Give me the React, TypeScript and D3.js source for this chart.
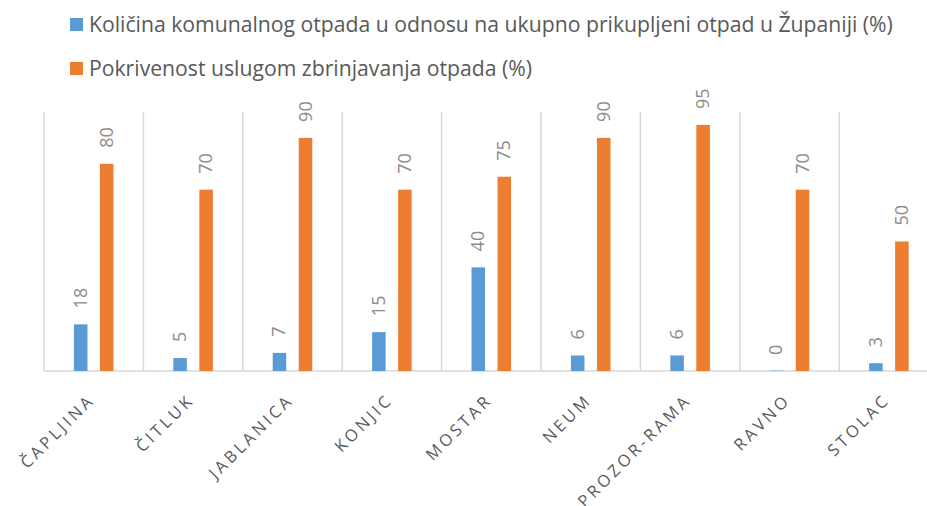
import React, { useEffect, useRef } from 'react';
import * as d3 from 'd3';

const categories = ['ČAPLJINA', 'ČITLUK', 'JABLANICA', 'KONJIC', 'MOSTAR', 'NEUM', 'PROZOR-RAMA', 'RAVNO', 'STOLAC'];
const komunalni = [18, 5, 7, 15, 40, 6, 6, 0, 3];
const pokrivenost = [80, 70, 90, 70, 75, 90, 95, 70, 50];
const seriesNames = [
  'Količina komunalnog otpada u odnosu na ukupno prikupljeni otpad u Županiji (%)',
  'Pokrivenost uslugom zbrinjavanja otpada (%)',
];
const colors = ['#5B9BD5', '#ED7D31'];

const App = () => {
  const ref = useRef<SVGSVGElement>(null);

  useEffect(() => {
    const svg = d3.select(ref.current);
    svg.selectAll('*').remove();

    const left = 44;
    const step = 99.4;
    const base = 371;
    const top = 112;

    const x = d3.scaleBand()
      .domain(categories)
      .range([left, left + step * categories.length]);

    const x1 = d3.scaleBand()
      .domain(['a', 'b'])
      .range([0, step])
      .paddingInner(0.48)
      .paddingOuter(1.15);

    const y = d3.scaleLinear().domain([0, 100]).range([base, top]);

    // vertical separators
    const lines = d3.range(categories.length + 1).map(i => left + i * step);
    svg.selectAll('.grid')
      .data(lines)
      .enter().append('line')
      .attr('x1', d => d).attr('x2', d => d)
      .attr('y1', top).attr('y2', base)
      .attr('stroke', '#D9D9D9').attr('stroke-width', 1.5);

    svg.append('line')
      .attr('x1', left).attr('x2', 927)
      .attr('y1', base).attr('y2', base)
      .attr('stroke', '#D9D9D9').attr('stroke-width', 1.5);

    const series = [komunalni, pokrivenost];
    series.forEach((vals, si) => {
      const key = si === 0 ? 'a' : 'b';
      const g = svg.append('g');
      g.selectAll('rect')
        .data(vals)
        .enter().append('rect')
        .attr('x', (d, i) => (x(categories[i]) as number) + (x1(key) as number))
        .attr('y', d => (d === 0 ? base - 1 : y(d)))
        .attr('width', x1.bandwidth())
        .attr('height', d => (d === 0 ? 1 : base - y(d)))
        .attr('fill', colors[si])
        .attr('opacity', d => (d === 0 ? 0.4 : 1));

      g.selectAll('text')
        .data(vals)
        .enter().append('text')
        .attr('transform', (d, i) => {
          const cx = (x(categories[i]) as number) + (x1(key) as number) + x1.bandwidth() / 2;
          return `translate(${cx + 6},${y(d) - 16}) rotate(-90)`;
        })
        .attr('font-family', '"Open Sans", sans-serif')
        .attr('font-size', 18)
        .attr('fill', '#8C8C8C')
        .text(d => d);
    });

    // x labels
    svg.append('g').selectAll('text')
      .data(categories)
      .enter().append('text')
      .attr('transform', d => {
        const cx = (x(d) as number) + step / 2;
        return `translate(${cx + 2},${base + 30}) rotate(-45)`;
      })
      .attr('text-anchor', 'end')
      .attr('font-family', '"Open Sans", sans-serif')
      .attr('font-size', 16.5)
      .attr('letter-spacing', 3.2)
      .attr('fill', '#595959')
      .text(d => d);

    // legend
    const legend = svg.append('g');
    seriesNames.forEach((name, i) => {
      const ly = 24 + i * 44;
      legend.append('rect')
        .attr('x', 70).attr('y', ly - 6)
        .attr('width', 13).attr('height', 13)
        .attr('fill', colors[i]);
      legend.append('text')
        .attr('x', 89).attr('y', ly + 8)
        .attr('font-family', '"Open Sans", sans-serif')
        .attr('font-size', 21.2)
        .attr('fill', '#595959')
        .text(name);
    });
  }, []);

  return (
    <svg ref={ref} width="927" height="506"
      style={{ position: 'absolute', left: 0, top: 0, background: '#fff' }}></svg>
  );
};

export default App;
